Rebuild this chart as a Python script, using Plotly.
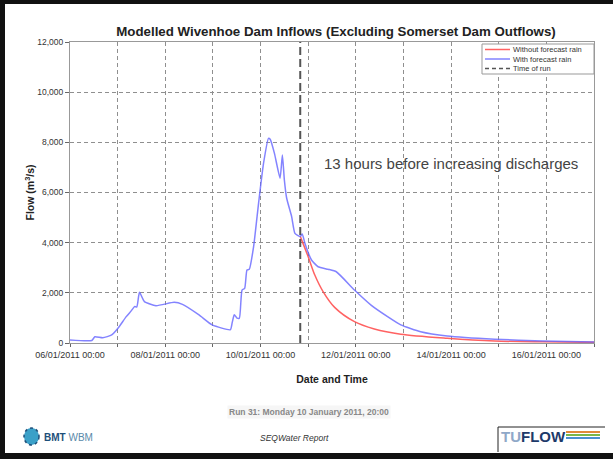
import plotly.graph_objects as go

# ---------------- data ----------------
blue_times = [
    "2011-01-06 00:00", "2011-01-06 11:00", "2011-01-06 12:30", "2011-01-06 16:30", "2011-01-06 21:00",
    "2011-01-07 00:10", "2011-01-07 04:20", "2011-01-07 06:50", "2011-01-07 08:30", "2011-01-07 09:40",
    "2011-01-07 11:00", "2011-01-07 13:30", "2011-01-07 19:20", "2011-01-08 04:30", "2011-01-08 08:40",
    "2011-01-08 17:00", "2011-01-08 23:40", "2011-01-09 08:50", "2011-01-09 09:40", "2011-01-09 10:45",
    "2011-01-09 12:10", "2011-01-09 13:20", "2011-01-09 14:40", "2011-01-09 16:00", "2011-01-09 17:10",
    "2011-01-09 18:20", "2011-01-09 20:30", "2011-01-09 23:00", "2011-01-10 01:30", "2011-01-10 04:00",
    "2011-01-10 04:50", "2011-01-10 07:00", "2011-01-10 09:50", "2011-01-10 11:00", "2011-01-10 12:00",
    "2011-01-10 13:10", "2011-01-10 15:40", "2011-01-10 17:20", "2011-01-10 20:00", "2011-01-10 21:00",
    "2011-01-10 22:20", "2011-01-11 01:40", "2011-01-11 05:00", "2011-01-11 10:00", "2011-01-11 14:10",
    "2011-01-11 23:20", "2011-01-12 07:40", "2011-01-12 16:00", "2011-01-12 22:40", "2011-01-13 08:40",
    "2011-01-13 22:00", "2011-01-14 22:00", "2011-01-15 22:00", "2011-01-17 00:00",
]
blue_flow = [
    120, 100, 250, 210, 320,
    590, 1050, 1280, 1450, 1440,
    2020, 1650, 1490, 1620, 1540,
    1120, 720, 530, 790, 1130,
    990, 990, 2110, 2180, 2910,
    2940, 3840, 5570, 7160, 8160,
    8120, 7560, 6570, 7500, 6500,
    5770, 5040, 4370, 4250, 4350,
    3980, 3310, 3040, 2940, 2840,
    2110, 1510, 1050, 720, 450,
    280, 150, 80, 40,
]

red_times = [
    "2011-01-10 20:00", "2011-01-11 00:00", "2011-01-11 03:20", "2011-01-11 07:30", "2011-01-11 13:20",
    "2011-01-11 23:20", "2011-01-12 09:20", "2011-01-12 22:40", "2011-01-13 22:00", "2011-01-14 22:00",
    "2011-01-15 22:00", "2011-01-17 00:00",
]
red_flow = [4250, 3440, 2710, 2050, 1420, 850, 560, 350, 190, 80, 45, 25]

time_of_run = "2011-01-10 20:00"
y_max = 12000
x_start, x_end = "2011-01-06", "2011-01-17"
y_ticks = [0, 2000, 4000, 6000, 8000, 10000, 12000]

series_names = ["Without forecast rain", "With forecast rain", "Time of run"]
RED = "rgba(255,70,70,0.85)"
BLUE = "rgba(100,100,255,0.8)"
RUN = "#555555"

FONT = "Liberation Sans, Arial, sans-serif"
DAY_MS = 86400000

fig = go.Figure()
fig.add_trace(go.Scatter(x=red_times, y=red_flow, mode="lines", name=series_names[0],
                         line=dict(color=RED, width=1.5, shape="spline", smoothing=0.8)))
fig.add_trace(go.Scatter(x=blue_times, y=blue_flow, mode="lines", name=series_names[1],
                         line=dict(color=BLUE, width=1.5, shape="spline", smoothing=0.5)))
fig.add_trace(go.Scatter(x=[time_of_run, time_of_run], y=[0, y_max], mode="lines", name=series_names[2],
                         line=dict(color=RUN, width=2, dash="8px,4px")))

# plot area px: x 70..594, y 42..343
L, R, T, B, W, H = 70, 594, 42, 343, 613, 459
def px(x):
    return (x - L) / (R - L)
def py(y):
    return (B - y) / (B - T)

GRID = dict(showgrid=True, gridcolor="#8f8f8f", griddash="4px,3px", gridwidth=1)

fig.update_layout(
    width=W, height=H,
    margin=dict(l=L, r=W - R, t=T, b=H - B),
    paper_bgcolor="white", plot_bgcolor="white",
    font=dict(family=FONT, color="#333333"),
    showlegend=False,
    title=dict(text="<b>Modelled Wivenhoe Dam Inflows (Excluding Somerset Dam Outflows)</b>",
               x=px(336), xref="paper", xanchor="center", y=1 - 31 / H, yref="container", yanchor="middle",
               font=dict(size=13.3, color="#222222", family=FONT)),
    xaxis=dict(range=[x_start, x_end], type="date", tick0=x_start, dtick=2 * DAY_MS,
               tickformat="%d/%m/%Y %H:%M",
               minor=dict(dtick=DAY_MS, tick0=x_start, ticks="outside", ticklen=3, tickcolor="#666666",
                          **GRID),
               **GRID,
               showline=True, linecolor="#999999", linewidth=1, mirror=True,
               ticks="outside", ticklen=3, tickcolor="#666666",
               tickfont=dict(size=9, color="#333333"),
               title=dict(text="<b>Date and Time</b>", font=dict(size=10.5, color="#222222"), standoff=16),
               zeroline=False, automargin=False),
    yaxis=dict(range=[0, y_max], tickmode="array", tickvals=y_ticks, tickformat=",",
               **GRID,
               showline=True, linecolor="#999999", linewidth=1, mirror=True,
               ticks="outside", ticklen=4, tickcolor="#666666",
               tickfont=dict(size=8.5, color="#333333"),
               title=dict(text="<b>Flow (m<sup>3</sup>/s)</b>", font=dict(size=10.5, color="#222222"), standoff=0),
               zeroline=False, automargin=False),
)

ann = []
ann.append(dict(text="13 hours before increasing discharges", x=px(451), y=py(163), xref="paper", yref="paper",
                xanchor="center", yanchor="middle",
                showarrow=False, font=dict(size=15, color="#444444", family=FONT)))
ann.append(dict(text="<b>Run 31: Monday 10 January 2011, 20:00</b>", x=px(309), y=py(412), xref="paper", yref="paper",
                xanchor="center", yanchor="middle",
                showarrow=False, font=dict(size=8.5, color="#888888", family=FONT), bgcolor="#f6f6f6"))
ann.append(dict(text="<i>SEQWater Report</i>", x=px(294), y=py(438), xref="paper", yref="paper",
                xanchor="center", yanchor="middle",
                showarrow=False, font=dict(size=8.5, color="#333333", family=FONT)))
ann.append(dict(text="<b>BMT</b> <span style='color:#5a8aaa'>WBM</span>", x=px(42), y=py(437), xref="paper", yref="paper",
                xanchor="left", yanchor="middle", showarrow=False, font=dict(size=10, color="#1d4f7a", family=FONT)))
ann.append(dict(text="<b><span style='color:#8fa8c8'>TU</span>FLOW</b>", x=px(499), y=py(436), xref="paper", yref="paper",
                xanchor="left", yanchor="middle", showarrow=False, font=dict(size=15, color="#1d3a6a", family=FONT)))

shapes = []
# legend box (custom, compact like the reference)
LX0, LX1, LY0 = 482, 594, 44
shapes.append(dict(type="rect", xref="paper", yref="paper", x0=px(LX0), x1=px(LX1), y0=py(LY0 + 30), y1=py(LY0),
                   fillcolor="white", line=dict(color="#999999", width=1), layer="above"))
for i, (nm, col, dash) in enumerate(zip(series_names, [RED, BLUE, RUN], ["solid", "solid", "4px,3px"])):
    yy = LY0 + 5.5 + i * 9.5
    shapes.append(dict(type="line", xref="paper", yref="paper", x0=px(485), x1=px(510), y0=py(yy), y1=py(yy),
                       line=dict(color=col, width=1.5, dash=dash), layer="above"))
    ann.append(dict(text=nm, x=px(511), y=py(yy), xref="paper", yref="paper", xanchor="left", yanchor="middle",
                    showarrow=False, font=dict(size=7.5, color="#333333", family=FONT)))

blk = "#111111"
# black frame (left, top, bottom)
shapes.append(dict(type="rect", xref="paper", yref="paper", x0=px(0), x1=px(5), y0=py(H), y1=py(0),
                   fillcolor=blk, line=dict(width=0)))
shapes.append(dict(type="rect", xref="paper", yref="paper", x0=px(0), x1=px(W), y0=py(4), y1=py(0),
                   fillcolor=blk, line=dict(width=0)))
shapes.append(dict(type="rect", xref="paper", yref="paper", x0=px(0), x1=px(W), y0=py(H), y1=py(453),
                   fillcolor=blk, line=dict(width=0)))
# BMT logo globe
shapes.append(dict(type="circle", xref="paper", yref="paper", x0=px(24), x1=px(39), y0=py(445), y1=py(428),
                   fillcolor="#3aa0c8", line=dict(color="#1d4f7a", width=1.5, dash="dot")))
# TUFLOW box
shapes.append(dict(type="line", xref="paper", yref="paper", x0=px(498), x1=px(605), y0=py(427), y1=py(427),
                   line=dict(color="#222222", width=1)))
shapes.append(dict(type="line", xref="paper", yref="paper", x0=px(498), x1=px(498), y0=py(427), y1=py(452),
                   line=dict(color="#222222", width=1)))
for i, c in enumerate(["#e08a3a", "#7ab648", "#4a90d0"]):
    yy = 432 + i * 3
    shapes.append(dict(type="line", xref="paper", yref="paper", x0=px(566), x1=px(600), y0=py(yy), y1=py(yy),
                       line=dict(color=c, width=2)))

fig.update_layout(annotations=ann, shapes=shapes)

fig.write_html("out.html", config={"displayModeBar": False},
               post_script="document.body.style.margin='0';document.body.style.overflow='hidden';")
